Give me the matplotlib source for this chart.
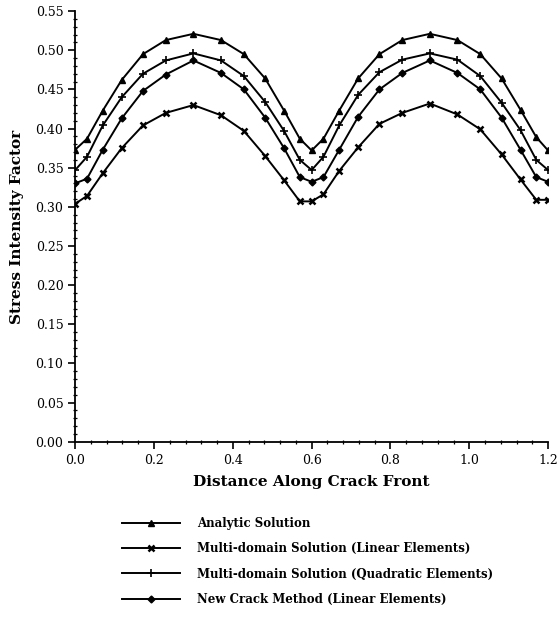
import matplotlib
matplotlib.use("Agg")
import matplotlib.pyplot as plt
from matplotlib.ticker import MultipleLocator, FormatStrFormatter

# distance along crack front (same nodes for every curve)
dist = [0.0, 0.03, 0.07, 0.118, 0.172, 0.23, 0.30, 0.37, 0.428, 0.482, 0.53, 0.57, 0.60,
        0.63, 0.67, 0.718, 0.772, 0.83, 0.90, 0.97, 1.028, 1.082, 1.13, 1.17, 1.20]

analytic = [0.373, 0.387, 0.423, 0.462, 0.495, 0.513, 0.521, 0.513, 0.495, 0.464, 0.423, 0.387, 0.372,
            0.387, 0.423, 0.464, 0.495, 0.513, 0.521, 0.513, 0.495, 0.464, 0.424, 0.389, 0.372]
md_linear = [0.304, 0.314, 0.343, 0.375, 0.404, 0.420, 0.430, 0.417, 0.397, 0.365, 0.334, 0.307, 0.307,
             0.316, 0.346, 0.376, 0.406, 0.420, 0.432, 0.418, 0.399, 0.367, 0.335, 0.309, 0.309]
md_quad = [0.347, 0.364, 0.404, 0.440, 0.470, 0.487, 0.496, 0.487, 0.467, 0.434, 0.397, 0.360, 0.347,
           0.364, 0.404, 0.443, 0.472, 0.488, 0.496, 0.488, 0.467, 0.433, 0.398, 0.360, 0.347]
new_crack = [0.330, 0.336, 0.373, 0.413, 0.448, 0.469, 0.487, 0.471, 0.450, 0.414, 0.375, 0.338, 0.332,
             0.338, 0.373, 0.415, 0.450, 0.471, 0.487, 0.471, 0.450, 0.414, 0.373, 0.338, 0.332]

labels = ["Analytic Solution",
          "Multi-domain Solution (Linear Elements)",
          "Multi-domain Solution (Quadratic Elements)",
          "New Crack Method (Linear Elements)"]

serif = "DejaVu Serif"

fig = plt.figure(figsize=(5.57, 6.17), dpi=100)
ax = fig.add_axes([0.135, 0.284, 0.849, 0.698])

ax.plot(dist, analytic, '-k^', lw=1.4, ms=4.5, label=labels[0])
ax.plot(dist, md_linear, '-kx', lw=1.4, ms=5, mew=1.8, label=labels[1])
ax.plot(dist, md_quad, '-k+', lw=1.4, ms=5.5, mew=1.2, label=labels[2])
ax.plot(dist, new_crack, '-kD', lw=1.4, ms=3.5, label=labels[3])

ax.set_xlim(0, 1.2)
ax.set_ylim(0, 0.55)
ax.xaxis.set_major_locator(MultipleLocator(0.2))
ax.xaxis.set_minor_locator(MultipleLocator(0.04))
ax.yaxis.set_major_locator(MultipleLocator(0.05))
ax.yaxis.set_minor_locator(MultipleLocator(0.01))
ax.xaxis.set_major_formatter(FormatStrFormatter('%.1f'))
ax.yaxis.set_major_formatter(FormatStrFormatter('%.2f'))
ax.spines['top'].set_visible(False)
ax.spines['right'].set_visible(False)
ax.spines['left'].set_linewidth(1.3)
ax.spines['bottom'].set_linewidth(1.3)
ax.tick_params(which='major', direction='out', length=5, width=1.2, labelsize=9)
ax.tick_params(which='minor', direction='inout', length=3, width=0.9)
for t in ax.get_xticklabels() + ax.get_yticklabels():
    t.set_family(serif)

ax.set_xlabel("Distance Along Crack Front", family=serif, fontweight='bold', fontsize=11, labelpad=6)
ax.set_ylabel("Stress Intensity Factor", family=serif, fontweight='bold', fontsize=11, labelpad=8)

leg = fig.legend(loc='upper left', bbox_to_anchor=(0.208, 0.172), frameon=False,
                 handlelength=4.9, handletextpad=1.45, labelspacing=1.05, borderpad=0,
                 prop={'family': serif, 'weight': 'bold', 'size': 8.5})

fig.savefig("out.png", dpi=100)
